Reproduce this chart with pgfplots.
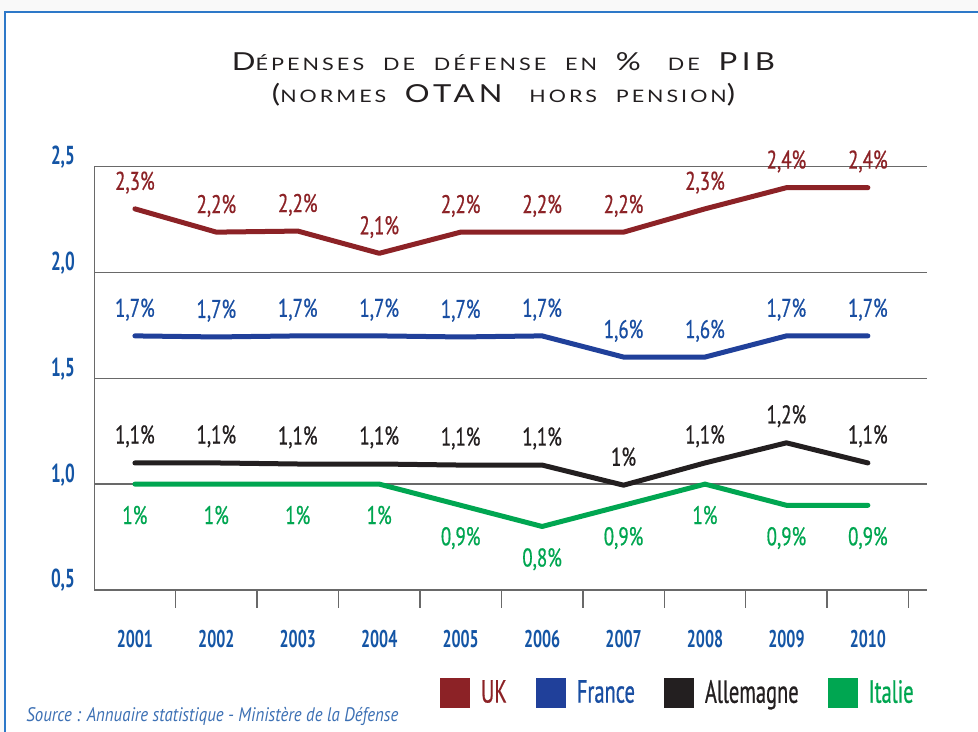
\documentclass[border=0pt]{standalone}
\usepackage{pgfplots}
\pgfplotsset{compat=1.18}
\usepackage{pgfplotstable}
\usepackage{graphicx}
\usepackage{fontspec}
\setmainfont{PT Sans}
\newfontfamily\labfont[FakeStretch=0.74,FakeBold=0.6]{PT Sans}
\newfontfamily\yearfont[FakeStretch=0.66]{PT Sans}
\newfontfamily\legfont[FakeStretch=0.64,FakeBold=0.6]{PT Sans}
\newfontfamily\titlefont[LetterSpace=14,WordSpace=2.2]{Lato}
\newfontfamily\srcfont{PT Sans}
\definecolor{ukred}{RGB}{140,34,38}
\definecolor{frblue}{RGB}{32,64,154}
\definecolor{frtext}{RGB}{25,78,162}
\definecolor{deblack}{RGB}{35,31,32}
\definecolor{itgreen}{RGB}{0,166,81}
\definecolor{axblue}{RGB}{20,85,165}
\definecolor{gridgray}{RGB}{105,105,105}
\definecolor{framblue}{RGB}{45,120,200}
\definecolor{srcblue}{RGB}{60,112,180}
\newcommand{\tB}{\fontsize{12.4}{14}\selectfont}
\newcommand{\tS}{\fontsize{8.6}{10}\selectfont}

\pgfplotstableread{
x y lab
0 2.30 {2,3\%}
1 2.19 {2,2\%}
2 2.195 {2,2\%}
3 2.09 {2,1\%}
4 2.19 {2,2\%}
5 2.19 {2,2\%}
6 2.19 {2,2\%}
7 2.30 {2,3\%}
8 2.40 {2,4\%}
9 2.40 {2,4\%}
}\ukdata
\pgfplotstableread{
x y lab
0 1.70 {1,7\%}
1 1.695 {1,7\%}
2 1.70 {1,7\%}
3 1.70 {1,7\%}
4 1.695 {1,7\%}
5 1.70 {1,7\%}
6 1.60 {1,6\%}
7 1.60 {1,6\%}
8 1.70 {1,7\%}
9 1.70 {1,7\%}
}\frdata
\pgfplotstableread{
x y lab
0 1.10 {1,1\%}
1 1.10 {1,1\%}
2 1.095 {1,1\%}
3 1.095 {1,1\%}
4 1.09 {1,1\%}
5 1.09 {1,1\%}
6 0.995 {1\%}
7 1.10 {1,1\%}
8 1.195 {1,2\%}
9 1.10 {1,1\%}
}\dedata
\pgfplotstableread{
x y lab
0 1.00 {1\%}
1 1.00 {1\%}
2 1.00 {1\%}
3 1.00 {1\%}
4 0.90 {0,9\%}
5 0.80 {0,8\%}
6 0.90 {0,9\%}
7 1.00 {1\%}
8 0.90 {0,9\%}
9 0.90 {0,9\%}
}\itdata

\begin{document}
\begin{tikzpicture}
\useasboundingbox (0,0) rectangle (489pt,366pt);
\fill[gray!5] (0,0) rectangle (489pt,366pt);
\fill[white] (2.5pt,0) rectangle (489pt,360pt);
\draw[framblue, line width=0.75pt] (2.5pt,0) -- (2.5pt,360pt) -- (489pt,360pt);

\node[anchor=base, inner sep=0pt, text=deblack] at (251.75pt,330.5pt)
  {\resizebox{271.5pt}{\height}{\titlefont\tB D\tS ÉPENSES DE DÉFENSE EN \tB \% \tS DE \tB PIB}};
\node[anchor=base, inner sep=0pt, text=deblack] at (251.75pt,314.5pt)
  {\resizebox{231.5pt}{\height}{\titlefont\tB(\tS NORMES \tB OTAN \tS HORS PENSION\tB)}};

\node[anchor=base west, inner sep=0pt, text=srcblue] at (13pt,5.15pt)
  {\resizebox{186pt}{\height}{\srcfont\itshape\fontsize{9.8}{11}\selectfont Source : Annuaire statistique - Ministère de la Défense}};

\begin{axis}[
  at={(47.1pt,71pt)}, anchor=south west,
  scale only axis, width=416.15pt, height=211.75pt,
  xmin=-0.5, xmax=9.72, ymin=0.5, ymax=2.5,
  enlargelimits=false, clip=false,
  axis x line*=bottom, axis y line*=left,
  axis line style={-, draw=gridgray, line width=0.7pt},
  major tick length=0pt,
  xtick={0,1,2,3,4,5,6,7,8,9},
  xticklabels={2001,2002,2003,2004,2005,2006,2007,2008,2009,2010},
  extra x ticks={0.5,1.5,2.5,3.5,4.5,5.5,6.5,7.5,8.5,9.5},
  extra x tick labels={},
  extra x tick style={grid=none, major tick length=8.8pt, tick align=outside,
     tick style={draw=gridgray, line width=0.7pt}},
  ytick={0.5,1,1.5,2,2.5},
  yticklabels={{0,5},{1,0},{1,5},{2,0},{2,5}},
  ymajorgrids, xmajorgrids=false,
  grid style={draw=gridgray, line width=0.7pt},
  xticklabel style={font=\yearfont\bfseries\fontsize{12.1}{14}\selectfont, text=axblue,
     anchor=base, inner sep=0pt, yshift=-28.6pt},
  yticklabel style={font=\yearfont\bfseries\fontsize{13}{15}\selectfont, text=axblue,
     anchor=base east, inner sep=0pt, xshift=-9.5pt, yshift=1pt},
  legend columns=4,
  legend cell align=left,
  legend image code/.code={\fill[draw=none] (0pt,-7.5pt) rectangle (15pt,7.5pt);},
  legend style={draw=none, fill=none, inner sep=0pt,
     at={(axis description cs:0.415,-0.243)}, anchor=west,
     font=\legfont\fontsize{16}{18}\selectfont,
     nodes={inner sep=0pt},
     /tikz/every odd column/.append style={column sep=5.5pt},
     /tikz/every even column/.append style={column sep=14.5pt}},
  every axis plot/.append style={line width=2.5pt, line cap=round, line join=round,
     nodes near coords, point meta=explicit symbolic},
]
\addplot[color=ukred, nodes near coords style={anchor=base, inner sep=0pt, yshift=9.5pt,
   font=\labfont\fontsize{12.8}{14}\selectfont, text=ukred}]
   table[x=x, y=y, meta=lab] {\ukdata};
\addlegendentry{\textcolor{ukred}{UK}}
\addplot[color=frblue, nodes near coords style={anchor=base, inner sep=0pt, yshift=9.5pt,
   font=\labfont\fontsize{12.8}{14}\selectfont, text=frtext}]
   table[x=x, y=y, meta=lab] {\frdata};
\addlegendentry{\textcolor{frtext}{France}}
\addplot[color=deblack, nodes near coords style={anchor=base, inner sep=0pt, yshift=9.7pt,
   font=\labfont\fontsize{12.8}{14}\selectfont, text=deblack}]
   table[x=x, y=y, meta=lab] {\dedata};
\addlegendentry{\textcolor{deblack}{Allemagne}}
\addplot[color=itgreen, nodes near coords style={anchor=base, inner sep=0pt, yshift=-20pt,
   font=\labfont\fontsize{12.8}{14}\selectfont, text=itgreen}]
   table[x=x, y=y, meta=lab] {\itdata};
\addlegendentry{\textcolor{itgreen}{Italie}}
\end{axis}
\end{tikzpicture}
\end{document}
